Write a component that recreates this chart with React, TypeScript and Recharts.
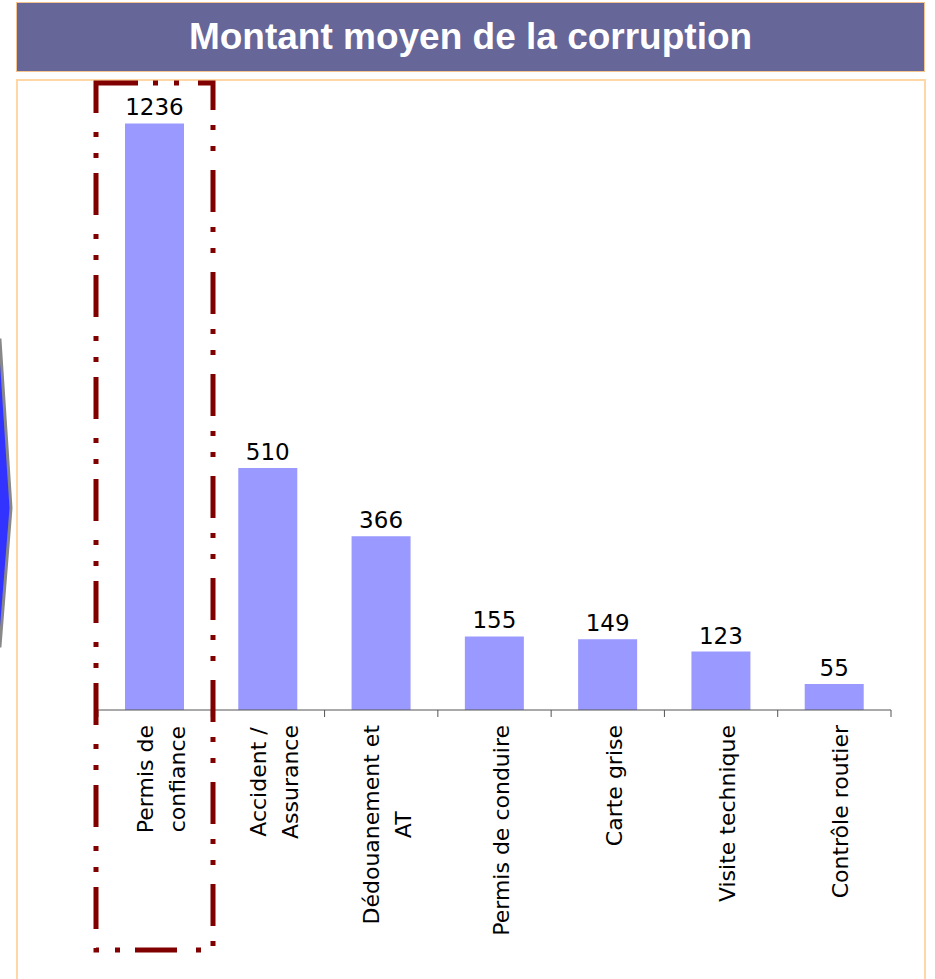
import { BarChart, Bar, XAxis, YAxis, LabelList } from 'recharts'

// categories ("\n" splits a tick label over two lines)
const categories = [
  'Permis de\nconfiance',
  'Accident /\nAssurance',
  'Dédouanement et\nAT',
  'Permis de conduire',
  'Carte grise',
  'Visite technique',
  'Contrôle routier',
]
const amounts = [1236, 510, 366, 155, 149, 123, 55]

const data = categories.map((name, i) => ({ name, value: amounts[i] }))

const W = 935
const H = 979
const PLOT_LEFT = 98
const PLOT_RIGHT = 891
const BAND = (PLOT_RIGHT - PLOT_LEFT) / categories.length
const FONT = '"DejaVu Sans", Verdana, sans-serif'
const TICK_SIZE = 22

let ctx: CanvasRenderingContext2D | null = null
function textWidth(s: string) {
  if (!ctx) {
    ctx = document.createElement('canvas').getContext('2d')
    if (ctx) ctx.font = `${TICK_SIZE}px ${FONT}`
  }
  return ctx ? ctx.measureText(s).width : s.length * TICK_SIZE * 0.6
}

function CategoryTick(props: any) {
  const { x, y, payload, index } = props
  const lines = String(payload.value).split('\n')
  // lines are centred on each other, block hangs from just below the axis
  const half = Math.max(...lines.map(textWidth)) / 2
  return (
    <g>
      <line x1={x - BAND / 2} y1={y} x2={x - BAND / 2} y2={y + 7} stroke="#555" />
      {index === categories.length - 1 && (
        <line x1={x + BAND / 2} y1={y} x2={x + BAND / 2} y2={y + 7} stroke="#555" />
      )}
      <text
        transform={`translate(${x},${y + 15}) rotate(-90)`}
        textAnchor="middle"
        fontSize={TICK_SIZE}
        fontFamily={FONT}
        fill="#000"
      >
        {lines.map((l, i) => (
          <tspan key={i} x={-half} y={14 + (i - (lines.length - 1) / 2) * 32}>
            {l}
          </tspan>
        ))}
      </text>
    </g>
  )
}

export default function App() {
  return (
    <div style={{ position: 'absolute', left: 0, top: 0, width: W, height: H, overflow: 'hidden', background: '#fff' }}>
      {/* title bar */}
      <div
        style={{
          position: 'absolute',
          left: 16,
          top: 2,
          width: 907,
          height: 68,
          background: '#666699',
          border: '1px solid #F5C38E',
          color: '#fff',
          fontFamily: '"Liberation Sans", Arial, sans-serif',
          fontWeight: 'bold',
          fontSize: 37,
          display: 'flex',
          alignItems: 'center',
          justifyContent: 'center',
        }}
      >
        Montant moyen de la corruption
      </div>

      {/* chart frame */}
      <div
        style={{
          position: 'absolute',
          left: 16,
          top: 79,
          width: 906,
          height: 940,
          border: '2px solid #FFD6A5',
        }}
      />

      <div style={{ position: 'absolute', left: 0, top: 0 }}>
        <BarChart
          width={W}
          height={H}
          data={data}
          margin={{ top: 93, right: W - PLOT_RIGHT, left: PLOT_LEFT, bottom: 19 }}
        >
          <XAxis
            dataKey="name"
            height={250}
            interval={0}
            tickLine={false}
            tickSize={0}
            tickMargin={0}
            axisLine={{ stroke: '#555' }}
            tick={<CategoryTick />}
          />
          <YAxis hide domain={[0, 1300]} />
          <Bar dataKey="value" fill="#9999FF" barSize={59} isAnimationActive={false}>
            <LabelList dataKey="value" position="top" offset={8} fontSize={23} fontFamily={FONT} fill="#000" />
          </Bar>
        </BarChart>
      </div>

      {/* annotations: arrow tip on the left edge and the highlight box */}
      <svg width={W} height={H} style={{ position: 'absolute', left: 0, top: 0, pointerEvents: 'none' }}>
        <polygon points="-40,340 0,340 11,508 0,646 -40,646" fill="#3333FF" stroke="#888" strokeWidth={3} />
        <rect
          x={96}
          y={83}
          width={117}
          height={867}
          fill="none"
          stroke="#800000"
          strokeWidth={5}
          strokeDasharray="42 15 5 16 5 19"
        />
      </svg>
    </div>
  )
}
